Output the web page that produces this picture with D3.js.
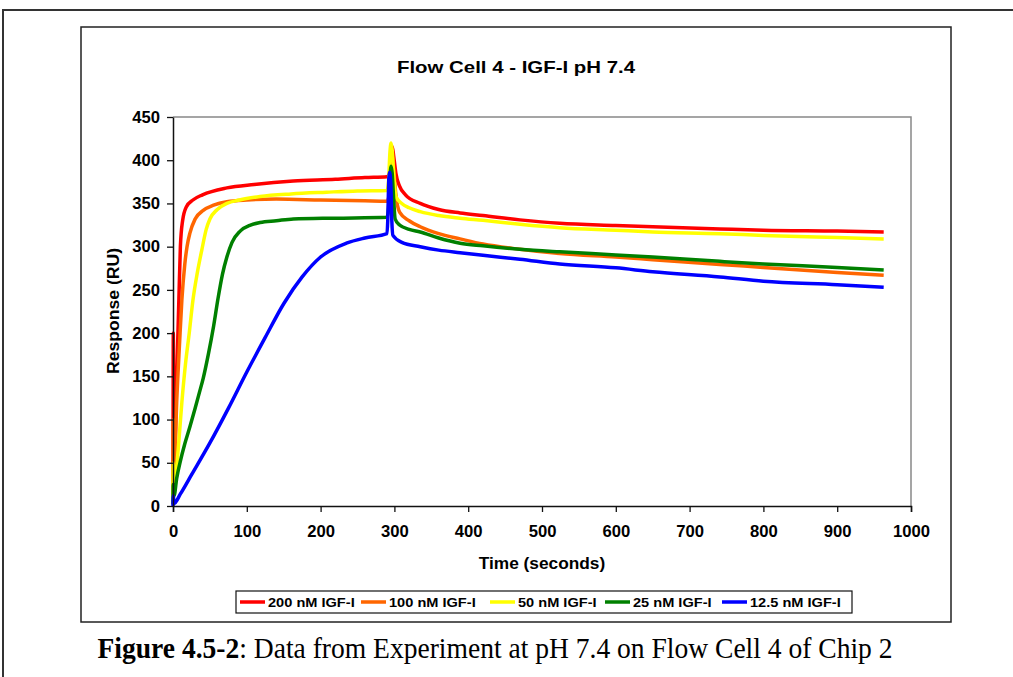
<!DOCTYPE html>
<html>
<head>
<meta charset="utf-8">
<script src="https://cdn.jsdelivr.net/npm/d3@7"></script>
<style>
  body { margin: 0; background: #fff; }
  svg { display: block; font-family: "Liberation Sans", Arial, sans-serif; }
</style>
</head>
<body>
<svg id="chart" width="1013" height="677"></svg>
<script>
// series: [time (s), response (RU)]
const seriesNames = ["200 nM IGF-I", "100 nM IGF-I", "50 nM IGF-I", "25 nM IGF-I", "12.5 nM IGF-I"];
const seriesColors = ["#ff0000", "#ff6600", "#ffff00", "#008000", "#0000ff"];

const igf200 = [[0,2],[0.4,200],[1.2,40],[5,150],[8,240],[10,300],[13,330],[18,346],[27,354],[40,360],[73,368],
  [110,372],[163,376],[220,378],[260,380],[290,381],[293,384],[295,400],[297,416],[299,405],[302,385],[307,370],
  [315,360],[335,350],[360,343],[389,339],[420,336],[470,331],[524,327],[600,324.5],[650,323],[741,320.5],
  [800,319],[900,318],[963,317]];
const igf100 = [[0,2],[0.4,100],[1.2,25],[5,120],[9,190],[12,238],[16,280],[19,300],[23,316],[30,332],[41,342],
  [55,348],[73,352],[100,354],[140,355],[200,354],[260,353],[290,352.5],[293,360],[295,395],[297,405],[299,390],
  [302,360],[307,340],[320,330],[335,323],[360,315],[389,309],[420,303],[470,297],[524,292],[600,288],[650,285],
  [741,279.5],[800,276],[900,270],[963,267]];
const igf50 = [[0,2],[0.4,50],[1.5,20],[7,65],[12,120],[17,165],[22,200],[27,238],[33,270],[39,296],[45,320],
  [50,332],[60,343],[73,350],[90,354],[118,358],[160,361],[208,363],[250,364.5],[290,365],[292,375],[294,410],
  [295.5,420],[297,412],[299,385],[302,358],[310,350],[320,345],[335,340.5],[360,336],[389,333],[420,330.5],
  [470,326],[524,322],[600,319],[650,317],[741,315],[800,313],[900,310.5],[963,309]];
const igf25 = [[0,2],[0.4,25],[1.5,12],[5,32],[10,52],[16,72],[23,92],[30,113],[36,132],[41,148],[48,176],
  [55,208],[61,240],[67,268],[73,288],[80,305],[91,318],[105,325],[118,328],[140,330],[163,332],[220,333],
  [290,334],[292,345],[294,380],[295.5,393],[297,385],[299,355],[301,332],[307,325],[320,320],[335,317],
  [360,310],[389,304],[420,301],[470,297],[524,294],[600,290.5],[650,288],[741,283],[800,280],[900,276],[963,273]];
const igf12 = [[0,0],[0.5,12],[1.5,3],[10,14],[25,36],[50,73],[75,113],[100,155],[125,195],[150,234],[175,265],
  [200,288],[235,304],[260,310],[290,315],[291,330],[292.5,380],[293.5,386],[295,375],[296.5,330],[298,313],
  [310,305],[335,300],[360,296],[389,293],[420,290],[470,285.5],[524,280],[600,275.5],[650,271],[741,265],
  [800,260],[900,256],[963,253]];
const seriesData = [igf200, igf100, igf50, igf25, igf12];

const xTickValues = [0, 100, 200, 300, 400, 500, 600, 700, 800, 900, 1000];
const yTickValues = [0, 50, 100, 150, 200, 250, 300, 350, 400, 450];

const svg = d3.select("#chart");

// widen text glyphs a little, the source figure is stretched sideways
function stretch(sel, k) {
  sel.each(function() {
    const w = this.getComputedTextLength();
    d3.select(this).attr("textLength", w * k).attr("lengthAdjust", "spacingAndGlyphs");
  });
}

// page frame and chart area
svg.append("rect")
  .attr("x", 3).attr("y", 10).attr("width", 1030).attr("height", 700)
  .attr("fill", "none").attr("stroke", "#333").attr("stroke-width", 2);
svg.append("rect")
  .attr("x", 81).attr("y", 27).attr("width", 870).attr("height", 595)
  .attr("fill", "#fff").attr("stroke", "#222").attr("stroke-width", 1.5);

const x = d3.scaleLinear().domain([0, 1000]).range([173, 911]);
const y = d3.scaleLinear().domain([0, 450]).range([506, 117]);

// grey plot border on top and right
svg.append("path")
  .attr("d", `M${x(0)},${y(450)}H${x(1000)}V${y(0)}`)
  .attr("fill", "none").attr("stroke", "#888").attr("stroke-width", 1.5);

const line = d3.line()
  .x(d => x(d[0]))
  .y(d => y(d[1]))
  .curve(d3.curveMonotoneX);

svg.append("g")
  .selectAll("path")
  .data(seriesData)
  .enter().append("path")
  .attr("d", line)
  .attr("fill", "none")
  .attr("stroke", (d, i) => seriesColors[i])
  .attr("stroke-width", 3.5)
  .attr("stroke-linejoin", "round");

// axes
const xAxis = svg.append("g")
  .attr("transform", `translate(0,${y(0)})`)
  .call(d3.axisBottom(x).tickValues(xTickValues).tickFormat(d3.format("d"))
    .tickSize(6).tickSizeOuter(6).tickPadding(14));
const yAxis = svg.append("g")
  .attr("transform", `translate(${x(0)},0)`)
  .call(d3.axisLeft(y).tickValues(yTickValues).tickFormat(d3.format("d"))
    .tickSize(6).tickSizeOuter(0).tickPadding(7));

[xAxis, yAxis].forEach(a => {
  a.select(".domain").attr("stroke", "#111").attr("stroke-width", 1.5);
  a.selectAll(".tick line").attr("stroke", "#111").attr("stroke-width", 1.3);
  a.selectAll(".tick text")
    .attr("fill", "#000")
    .style("font-family", "'Liberation Sans', Arial, sans-serif")
    .style("font-size", "16px")
    .style("font-weight", "bold");
});
stretch(xAxis.selectAll(".tick text"), 1.04);
stretch(yAxis.selectAll(".tick text"), 1.04);

// title and axis labels
const title = svg.append("text")
  .attr("x", 516).attr("y", 73)
  .attr("text-anchor", "middle")
  .style("font-size", "17px").style("font-weight", "bold")
  .text("Flow Cell 4 - IGF-I pH 7.4");
stretch(title, 1.2);

const xLabel = svg.append("text")
  .attr("x", 542).attr("y", 569)
  .attr("text-anchor", "middle")
  .style("font-size", "16px").style("font-weight", "bold")
  .text("Time (seconds)");
stretch(xLabel, 1.08);

const yLabel = svg.append("text")
  .attr("transform", "translate(119,311) rotate(-90)")
  .attr("text-anchor", "middle")
  .style("font-size", "16px").style("font-weight", "bold")
  .text("Response (RU)");
stretch(yLabel, 1.1);

// legend
const legendX = [240, 361, 490, 605, 722];
svg.append("rect")
  .attr("x", 236).attr("y", 591).attr("width", 616).attr("height", 22)
  .attr("fill", "#fff").attr("stroke", "#111").attr("stroke-width", 1.2);
const legend = svg.append("g")
  .selectAll("g")
  .data(seriesNames)
  .enter().append("g")
  .attr("transform", (d, i) => `translate(${legendX[i]},602)`);
legend.append("line")
  .attr("x1", 0).attr("x2", 25)
  .attr("stroke", (d, i) => seriesColors[i])
  .attr("stroke-width", 3.5);
const legendText = legend.append("text")
  .attr("x", 28).attr("y", 5)
  .style("font-size", "13.5px").style("font-weight", "bold")
  .text(d => d);
stretch(legendText, 1.08);

// figure caption
const caption = svg.append("text")
  .attr("x", 495).attr("y", 658)
  .attr("text-anchor", "middle")
  .style("font-family", "'Liberation Serif', 'Times New Roman', serif")
  .style("font-size", "29.5px");
caption.append("tspan").style("font-weight", "bold").text("Figure 4.5-2");
caption.append("tspan").text(": Data from Experiment at pH 7.4 on Flow Cell 4 of Chip 2");
caption.attr("textLength", 795).attr("lengthAdjust", "spacingAndGlyphs");
</script>
</body>
</html>
